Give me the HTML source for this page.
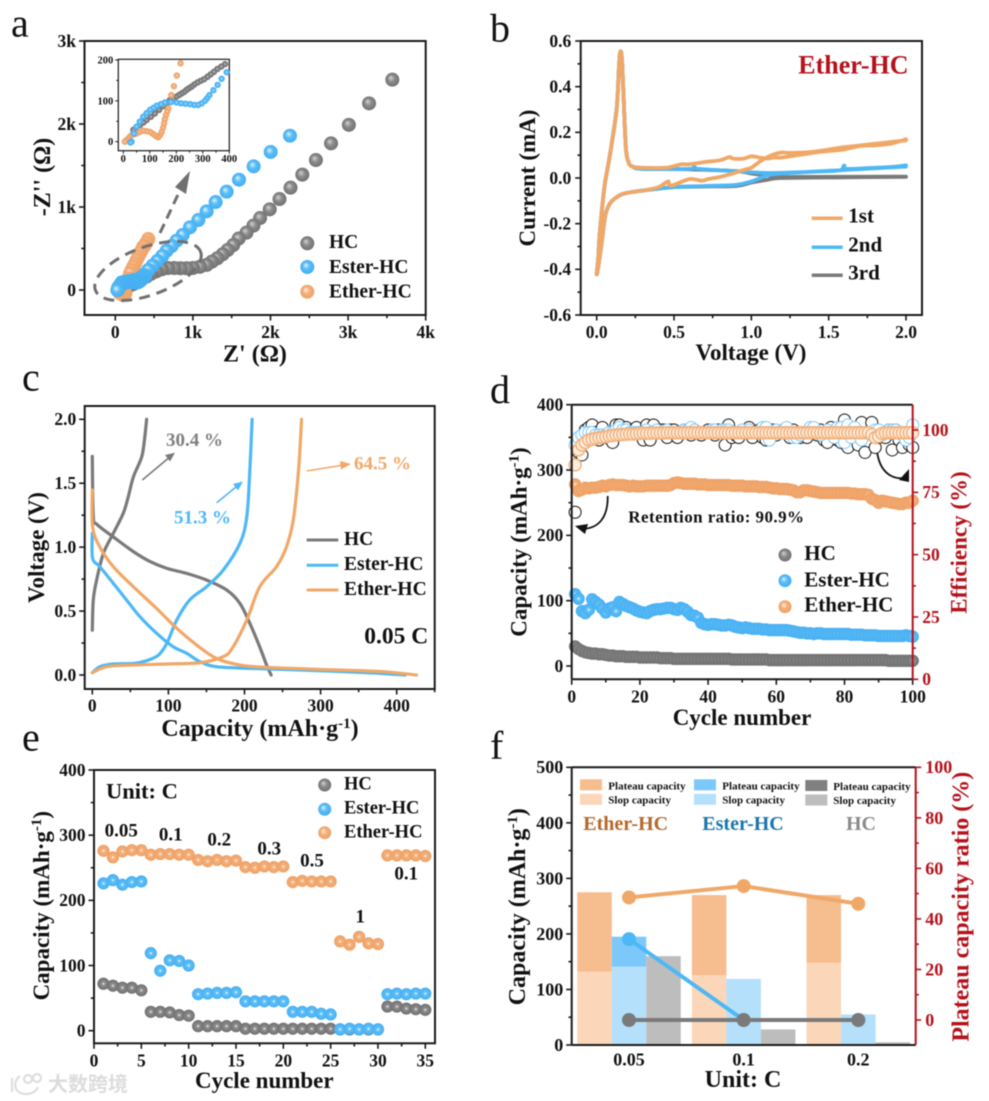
<!DOCTYPE html>
<html lang="en">
<head>
<meta charset="utf-8">
<title>Hard carbon electrochemistry figure</title>
<style>
html,body{margin:0;padding:0;background:#fff;}
body{width:989px;height:1101px;overflow:hidden;}
#figure{display:block;filter:blur(0.5px);}
#figure text{font-family:"Liberation Serif","Noto Serif CJK SC",serif;font-weight:bold;fill:#111;}
#figure text.panel{font-weight:normal;font-size:40px;fill:#111;}
#figure text.title{font-size:23px;}
#figure text.leg{font-size:19.5px;}
#figure text.tiny{font-size:11px;}
#figure text.wm{font-family:"Liberation Sans","Noto Sans CJK SC",sans-serif;font-size:20px;fill:#dcdcdc;}
</style>
</head>
<body>
<svg id="figure" width="989" height="1101" viewBox="0 0 989 1101" xmlns="http://www.w3.org/2000/svg">
<defs>
<radialGradient id="sGray" cx="50%" cy="50%" r="55%" fx="38%" fy="35%"><stop offset="0" stop-color="#d4d4d4"/><stop offset=".45" stop-color="#8b8b8b"/><stop offset="1" stop-color="#6d6d6d"/></radialGradient>
<radialGradient id="sBlue" cx="50%" cy="50%" r="55%" fx="38%" fy="35%"><stop offset="0" stop-color="#dff3ff"/><stop offset=".45" stop-color="#58bdf8"/><stop offset="1" stop-color="#42abf0"/></radialGradient>
<radialGradient id="sOrange" cx="50%" cy="50%" r="55%" fx="38%" fy="35%"><stop offset="0" stop-color="#ffeedd"/><stop offset=".45" stop-color="#f3b07a"/><stop offset="1" stop-color="#ee9f62"/></radialGradient>
<radialGradient id="dGray"><stop offset="0" stop-color="#f0f0f0"/><stop offset=".3" stop-color="#8c8c8c"/><stop offset="1" stop-color="#6f6f6f"/></radialGradient>
<radialGradient id="dBlue"><stop offset="0" stop-color="#f2faff"/><stop offset=".3" stop-color="#5fc0f8"/><stop offset="1" stop-color="#46aef2"/></radialGradient>
<radialGradient id="dOrange"><stop offset="0" stop-color="#fff3e8"/><stop offset=".3" stop-color="#f3b17c"/><stop offset="1" stop-color="#ee9f62"/></radialGradient>
</defs>

<text class="panel" x="11" y="36.7">a</text>
<text class="panel" x="490" y="41.7">b</text>
<text class="panel" x="22" y="390.7">c</text>
<text class="panel" x="490" y="403">d</text>
<text class="panel" x="22" y="750.7">e</text>
<text class="panel" x="490" y="759">f</text>

<!-- axis titles -->
<text class="title" x="255" y="361.7" text-anchor="middle" style="font-size:24px">Z' (Ω)</text>
<text class="title" transform="translate(50,177) rotate(-90)" text-anchor="middle" style="font-size:24px">-Z'' (Ω)</text>
<text class="title" x="751" y="360" text-anchor="middle">Voltage (V)</text>
<text class="title" transform="translate(535,178) rotate(-90)" text-anchor="middle">Current (mA)</text>
<text class="title" x="260" y="736" text-anchor="middle" style="font-size:24px">Capacity (mAh·g<tspan dy="-8" font-size="15">-1</tspan><tspan dy="8">)</tspan></text>
<text class="title" transform="translate(44,547.5) rotate(-90)" text-anchor="middle">Voltage (V)</text>
<text class="title" x="742" y="725" text-anchor="middle">Cycle number</text>
<text class="title" transform="translate(526.7,542) rotate(-90)" text-anchor="middle">Capacity (mAh·g<tspan dy="-8" font-size="15">-1</tspan><tspan dy="8">)</tspan></text>
<text class="title" transform="translate(966.7,542.5) rotate(-90)" text-anchor="middle" style="fill:#b5121b">Efficiency (%)</text>
<text class="title" x="264.3" y="1088" text-anchor="middle">Cycle number</text>
<text class="title" transform="translate(49,905.7) rotate(-90)" text-anchor="middle">Capacity (mAh·g<tspan dy="-8" font-size="15">-1</tspan><tspan dy="8">)</tspan></text>
<text class="title" x="743" y="1087" text-anchor="middle" style="font-size:24px">Unit: C</text>
<text class="title" transform="translate(525,906.7) rotate(-90)" text-anchor="middle" style="font-size:24px">Capacity (mAh·g<tspan dy="-8" font-size="15">-1</tspan><tspan dy="8">)</tspan></text>
<text class="title" transform="translate(968.3,906.7) rotate(-90)" text-anchor="middle" style="font-size:24px;fill:#b5121b">Plateau capacity ratio (%)</text>

<!-- legends and annotations -->
<g>
<circle cx="307.3" cy="243.3" r="7" fill="url(#sGray)"/>
<circle cx="307.3" cy="267" r="7" fill="url(#sBlue)"/>
<circle cx="307.3" cy="291.7" r="7" fill="url(#sOrange)"/>
<text class="leg" x="329" y="248">HC</text>
<text class="leg" x="329" y="273">Ester-HC</text>
<text class="leg" x="329" y="297.6">Ether-HC</text>
</g>
<g>
<line x1="811.7" x2="842.7" y1="218.3" y2="218.3" stroke="#f0a868" stroke-width="3.5"/>
<line x1="811.7" x2="842.7" y1="247.3" y2="247.3" stroke="#4db8f5" stroke-width="3.5"/>
<line x1="811.7" x2="842.7" y1="275.3" y2="275.3" stroke="#7a7a7a" stroke-width="3.5"/>
<text x="848.3" y="222.7" font-size="21">1st</text>
<text x="848.3" y="251.7" font-size="21">2nd</text>
<text x="848.3" y="279.3" font-size="21">3rd</text>
</g>
<text x="798.3" y="73.3" font-size="26" style="fill:#b5121b">Ether-HC</text>
<g>
<line x1="306.7" x2="338.3" y1="540" y2="540" stroke="#7a7a7a" stroke-width="3"/>
<line x1="306.7" x2="338.3" y1="565.3" y2="565.3" stroke="#4db8f5" stroke-width="3"/>
<line x1="306.7" x2="338.3" y1="590" y2="590" stroke="#f0a868" stroke-width="3"/>
<text class="leg" x="344" y="545">HC</text>
<text class="leg" x="344" y="570">Ester-HC</text>
<text class="leg" x="344" y="595">Ether-HC</text>
</g>
<text x="364.3" y="643.3" font-size="23.5">0.05 C</text>
<text x="166" y="446" font-size="19" style="fill:#808080">30.4 %</text>
<text x="174" y="523.3" font-size="19" style="fill:#4db8f5">51.3 %</text>
<text x="354" y="469.3" font-size="19" style="fill:#f0a868">64.5 %</text>
<g stroke="#7a7a7a" fill="#7a7a7a"><line x1="142.3" y1="480" x2="168" y2="458.5" stroke-width="1.6"/><polygon points="175,452.7 165,455 170,461.5" stroke="none"/></g>
<g stroke="#4db8f5" fill="#4db8f5"><line x1="216.7" y1="502.7" x2="236" y2="487" stroke-width="1.6"/><polygon points="243,481.5 233,484 238,490.5" stroke="none"/></g>
<g stroke="#f0a868" fill="#f0a868"><line x1="306.7" y1="471" x2="341" y2="465.5" stroke-width="1.6"/><polygon points="351,464 340,461 341,469.5" stroke="none"/></g>

<g>
<circle cx="785" cy="555" r="6.5" fill="url(#sGray)"/>
<circle cx="785" cy="580.7" r="6.5" fill="url(#sBlue)"/>
<circle cx="785" cy="606.7" r="6.5" fill="url(#sOrange)"/>
<text class="leg" x="804.3" y="560" style="font-size:21px">HC</text>
<text class="leg" x="804.3" y="586.7" style="font-size:21px">Ester-HC</text>
<text class="leg" x="804.3" y="611.7" style="font-size:21px">Ether-HC</text>
</g>
<text x="628.3" y="522.7" font-size="17" textLength="175.7">Retention ratio: 90.9%</text>

<g>
<circle cx="324.7" cy="785" r="6.5" fill="url(#sGray)"/>
<circle cx="324.7" cy="809.3" r="6.5" fill="url(#sBlue)"/>
<circle cx="324.7" cy="832.7" r="6.5" fill="url(#sOrange)"/>
<text class="leg" x="344" y="789.3" style="font-size:18.5px">HC</text>
<text class="leg" x="344" y="813.3" style="font-size:18.5px">Ester-HC</text>
<text class="leg" x="344" y="837.3" style="font-size:18.5px">Ether-HC</text>
</g>
<text x="106" y="798.3" font-size="22.5">Unit: C</text>
<g font-size="19" text-anchor="middle">
<text x="121.3" y="836.7">0.05</text>
<text x="170.7" y="840.7">0.1</text>
<text x="219.3" y="845.7">0.2</text>
<text x="269.3" y="854.3">0.3</text>
<text x="312" y="866.7">0.5</text>
<text x="360.3" y="922.7">1</text>
<text x="406.3" y="879.3">0.1</text>
</g>

<g fill="none" stroke="#dedede" stroke-width="2.2">
<path d="M12 1078 L12 1092 M20 1076 C12 1082 14 1094 26 1094 C32 1094 36 1091 38 1087"/>
<circle cx="28" cy="1079" r="4"/>
<circle cx="37" cy="1078" r="4"/>
<text class="wm" x="48" y="1091" stroke="none">大数跨境</text>
</g>

<g id="marks"></g>
<g id="overlay"></g>
</svg>

<script>
/* ---------- panel a: impedance (ohm) ---------- */
const aHcZre=[3570,3270,3010,2780,2585,2410,2258,2116,1990,1866,1780,1690,1590,1520,1448,1383,1315,1245,1178,1090,1000,920,840,760,680,600,530,460,400,340,280,230,180,130];
const aHcZim=[2534,2249,1990,1767,1566,1390,1233,1096,972,867,775,691,620,542,482,430,382,342,302,280,265,262,262,265,265,250,225,195,160,130,100,70,50,30];
const aEsterZre=[2251,2002,1783,1594,1435,1293,1177,1070,962,868,790,726,662,606,541,481,425,369,320,280,240,200,160,120,80,60,40,30];
const aEsterZim=[1859,1663,1490,1329,1185,1060,948,843,755,663,594,530,474,410,349,293,241,181,145,125,120,110,105,100,90,60,30,0];
const aEtherZre=[425,400,375,360,340,318,295,275,255,232,210,190,170,145,120,100,130,100,60,40];
const aEtherZim=[614,570,530,522,480,442,400,361,320,281,240,200,140,80,30,-20,-40,-60,-40,0];
const aXTicks=[0,1000,2000,3000,4000];
const aXLabels=['0','1k','2k','3k','4k'];
const aXMinor=[500,1500,2500,3500];
const aYTicks=[0,1000,2000,3000];
const aYLabels=['0','1k','2k','3k'];
const aYMinor=[500,1500,2500];

/* inset of panel a */
const insetHcZre=[384,370,355,342,330,318,305,292,280,268,258,248,239,230,220,210,199,188,176,164,151,135,119,104,88,76,63,50,38];
const insetHcZim=[190,184,178,171,165,159,153,149,145,140,135,131,127,122,118,114,110,106,102,95,87,78,69,61,53,47,41,35,29];
const insetEsterZre=[390,371,356,340,325,316,308,296,283,268,252,235,218,201,180,157,142,126,114,101,88,75,62,50,40,31,27];
const insetEsterZim=[170,154,139,126,114,106,100,94,90,90,92,93,94,96,97,96,92,88,83,78,70,61,49,37,20,0,-2];
const insetEtherZre=[216,202,191,181,170,166,161,157,154,150,145,139,132,125,119,110,101,88,75,62,50,40,31,25,19,12,6];
const insetEtherZim=[192,162,136,114,82,74,65,55,45,34,24,16,11,13,16,20,24,26,27,24,20,18,16,12,8,4,0];
const insetXTicks=[0,100,200,300,400];
const insetXLabels=['0','100','200','300','400'];
const insetXMinor=[50,150,250,350];
const insetYTicks=[0,100,200];
const insetYLabels=['0','100','200'];
const insetYMinor=[50,150];

/* ---------- panel b: cyclic voltammetry ---------- */
const bTick=[0,0.5,1,1.5,2];
const bXLabels=['0.0','0.5','1.0','1.5','2.0'];
const bXMinor=[0.25,0.75,1.25,1.75];
const bYTicks=[-0.6,-0.4,-0.2,0,0.2,0.4,0.6];
const bYLabels=['-0.6','-0.4','-0.2','0.0','0.2','0.4','0.6'];
const bYMinor=[-0.5,-0.3,-0.1,0.1,0.3,0.5];
const b3rdV=[2,1.6,1.2,1.1,1,0.9,0.7,0.5,0.3,0.172,0.108,0.075,0.054,0.032,0.01,0,0.01,0.02,0.05,0.07,0.097,0.13,0.145,0.155,0.165,0.18,0.19,0.205,0.23,0.3,0.6,0.9,1,1.1,1.2,1.4,2];
const b3rdI=[0.005,0.003,0,-0.008,-0.02,-0.035,-0.037,-0.04,-0.055,-0.069,-0.095,-0.124,-0.17,-0.285,-0.39,-0.42,-0.35,-0.24,-0.04,0.04,0.15,0.31,0.5,0.555,0.5,0.25,0.12,0.07,0.05,0.04,0.038,0.03,0.02,0.012,0.005,0.005,0.006];
const b2ndV=[2,1.6,1.2,1.1,1,0.9,0.7,0.5,0.3,0.172,0.108,0.075,0.054,0.032,0.01,0,0.01,0.02,0.05,0.07,0.097,0.13,0.145,0.155,0.165,0.18,0.19,0.205,0.23,0.3,0.6,0.63,0.66,0.9,1.1,1.3,1.5,1.58,1.6,1.62,1.8,1.9,2];
const b2ndI=[0.05,0.035,0.02,0.01,-0.015,-0.03,-0.035,-0.04,-0.055,-0.069,-0.095,-0.124,-0.17,-0.285,-0.39,-0.42,-0.35,-0.24,-0.04,0.04,0.15,0.31,0.5,0.555,0.5,0.25,0.12,0.07,0.05,0.04,0.04,0.05,0.04,0.03,0.022,0.025,0.03,0.035,0.055,0.04,0.045,0.048,0.055];
const b1stV=[2,1.8,1.6,1.4,1.25,1.2,1.15,1.1,1.05,1,0.95,0.88,0.8,0.72,0.68,0.6,0.5,0.47,0.46,0.4,0.3,0.172,0.108,0.075,0.054,0.032,0.01,0,0.01,0.02,0.05,0.07,0.097,0.13,0.145,0.155,0.165,0.18,0.19,0.205,0.23,0.3,0.45,0.5,0.55,0.6,0.7,0.8,0.86,0.88,0.95,1,1.05,1.1,1.15,1.2,1.3,1.45,1.6,1.7,1.8,1.9,2];
const b1stI=[0.165,0.15,0.135,0.115,0.11,0.112,0.105,0.09,0.07,0.045,0.035,0.02,0.005,-0.005,-0.012,-0.005,-0.03,-0.03,-0.015,-0.04,-0.055,-0.069,-0.095,-0.124,-0.17,-0.285,-0.39,-0.42,-0.35,-0.24,-0.04,0.04,0.15,0.31,0.5,0.555,0.5,0.25,0.12,0.07,0.05,0.045,0.045,0.052,0.06,0.06,0.07,0.078,0.092,0.085,0.085,0.095,0.09,0.085,0.09,0.09,0.1,0.115,0.125,0.14,0.143,0.15,0.17];

/* ---------- panel c: charge/discharge ---------- */
const cXTicks=[0,100,200,300,400];
const cXLabels=['0','100','200','300','400'];
const cXMinor=[50,150,250,350,450];
const cYTicks=[0,0.5,1,1.5,2];
const cYLabels=['0.0','0.5','1.0','1.5','2.0'];
const cYMinor=[0.25,0.75,1.25,1.75];
const cHcDisQ=[0,1.3,5.7,27.6,54,76,98,124,150,176.5,194,207,220,229,235];
const cHcDisV=[1.71,1.24,1.18,1.08,0.965,0.887,0.834,0.795,0.743,0.665,0.56,0.404,0.22,0.078,0];
const cHcChgQ=[0,1.3,5.7,14.5,27.6,40.7,47.3,54,65,69,71.4];
const cHcChgV=[0.35,0.587,0.743,0.95,1.108,1.265,1.395,1.55,1.708,1.864,2];
const cEsterDisQ=[0,0.4,10,27.6,45,62.6,84.6,106,124,141.5,163,207,273,360,411];
const cEsterDisV=[1.108,0.913,0.847,0.717,0.587,0.456,0.326,0.222,0.17,0.104,0.065,0.052,0.039,0.018,0];
const cEsterChgQ=[0,10,27.6,54,71.4,87,98,111,128,150,172,194,203,207,210];
const cEsterChgV=[0.018,0.065,0.086,0.09,0.112,0.156,0.248,0.43,0.587,0.69,0.82,1.03,1.238,1.6,2];
const cEtherDisQ=[0,0.4,10,27.6,54,84.6,111,137,163,194,229,317,382,426];
const cEtherDisV=[1.447,1.16,1,0.847,0.69,0.52,0.365,0.235,0.13,0.078,0.06,0.04,0.026,0];
const cEtherChgQ=[0,19,54,98,141.5,172,185,203,220,242,255,264,271,275];
const cEtherChgV=[0.018,0.065,0.078,0.086,0.096,0.143,0.22,0.43,0.69,0.847,1,1.21,1.6,2];

/* ---------- panel d: cycling ---------- */
const dXTicks=[0,20,40,60,80,100];
const dXLabels=['0','20','40','60','80','100'];
const dXMinor=[10,30,50,70,90];
const dYTicks=[0,100,200,300,400];
const dYLabels=['0','100','200','300','400'];
const dYMinor=[50,150,250,350];
const dRTicks=[0,25,50,75,100];
const dRLabels=['0','25','50','75','100'];
const dRMinor=[12.5,37.5,62.5,87.5];
const dHcCap=[30,26,23,21,20,19,19,18,18,17,16,16,15,15,15,14,14,14,14,13,13,13,13,13,13,12,12,12,12,11,11,11,11,11,11,11,11,11,11,11,11,11,11,11,11,11,10,10,10,10,10,10,10,10,10,10,10,9,9,9,9,9,9,9,9,9,9,9,9,9,9,9,9,9,9,9,9,9,9,9,9,9,9,9,9,9,9,9,9,9,9,9,8,8,8,8,8,8,8,8];
const dEsterCap=[110,103,84,81,86,102,98,94,88,82,88,90,84,98,95,92,90,88,85,83,82,81,84,86,87,87,88,89,89,87,86,89,87,83,78,77,74,66,64,63,64,64,63,62,62,63,62,60,59,58,59,58,57,57,57,56,56,55,55,55,55,55,55,54,53,52,51,51,50,50,49,50,50,49,49,49,49,49,49,49,49,48,48,48,48,47,47,47,47,46,46,46,46,46,46,46,46,47,46,45];
const dEtherCap=[278,268,270,273,272,273,273,274,276,275,277,278,277,277,277,276,275,276,275,275,275,276,276,276,276,276,276,276,277,280,281,280,279,279,279,279,278,278,278,277,277,277,277,277,277,277,276,276,276,276,275,275,275,275,274,274,274,273,272,272,271,271,271,270,269,266,266,269,269,268,267,266,265,265,265,265,265,265,265,265,265,264,264,263,263,263,262,256,254,250,253,252,251,250,249,248,248,250,250,253];
const dHcEff=[67,91,90,100,101,102,99,96,101,97,98,95,102,102,100,101,99,100,101,98,96,102,96,102,99,100,100,97,100,100,97,99,100,99,98,100,99,98,99,100,99,98,100,99,94,102,97,98,97,99,100,101,97,99,100,97,96,99,100,98,99,100,99,97,100,98,97,99,97,100,99,98,100,96,95,101,99,96,95,104,93,99,100,94,103,91,99,103,93,97,99,97,100,92,100,96,93,99,94,93];
const dEsterEff=[94,97,98,99,99,99,98,98,98,98,99,99,100,101,100,100,99,99,99,99,99,100,99,99,100,99,99,100,99,99,99,99,100,100,101,100,99,99,99,99,100,100,99,100,100,100,99,99,99,100,99,100,99,99,99,101,101,96,99,100,99,100,101,99,97,97,98,99,99,101,101,99,98,99,100,99,97,101,101,95,102,97,101,99,96,99,99,98,100,100,98,99,100,100,100,99,98,96,97,102];
const dEtherEff=[86,92,94,95,96,96.3,96.6,96.9,97.1,97.3,97.6,97.8,98,98.1,98.2,98.3,98.4,98.4,98.5,98.6,98.7,98.7,98.7,98.8,98.8,98.8,98.8,98.9,98.9,98.9,98.9,98.9,98.9,98.9,98.9,98.9,98.9,98.9,98.9,98.9,98.9,98.9,98.9,98.9,98.9,98.9,98.9,98.9,98.9,98.9,98.9,98.9,98.9,98.9,98.9,98.9,98.9,98.9,98.9,98.9,98.9,98.9,98.9,98.9,98.9,98.9,98.9,98.9,98.9,98.9,98.9,98.9,98.9,98.9,98.9,98.9,98.9,98.9,98.9,98.9,98.9,98.9,98.9,98.9,98.9,98.9,98.9,98.2,97,97.4,98.6,98.8,98.9,98.9,98.9,98.9,98.9,98.9,98.9,98.9];

/* ---------- panel e: rate capability ---------- */
const eXTicks=[0,5,10,15,20,25,30,35];
const eXLabels=['0','5','10','15','20','25','30','35'];
const eXMinor=[2.5,7.5,12.5,17.5,22.5,27.5,32.5];
const eYTicks=[0,100,200,300,400];
const eYLabels=['0','100','200','300','400'];
const eYMinor=[50,150,250,350];
const eHcCap=[72,69,66,66,62,29,29,28,24,23,7,7,7,7,7,3,3,3,3,3,3,3,3,3,3,2,2,2,2,2,37,37,34,33,32];
const eEsterCap=[226,231,224,228,229,119,92,108,107,100,56,57,58,58,59,45,45,45,45,45,29,29,29,26,25,2,3,2,3,2,56,57,56,57,57];
const eEtherCap=[276,266,275,277,277,270,271,271,270,270,262,260,262,260,261,251,250,252,251,252,228,230,229,229,229,137,132,144,134,133,269,269,269,269,268];

/* ---------- panel f: plateau vs slope ---------- */
const fCategories=['0.05','0.1','0.2'];
const fEtherSlope=[132,126,148];
const fEtherTotal=[275,270,270];
const fEsterSlope=[141,119,55];
const fEsterTotal=[195,119,55];
const fHcSlope=[160,28,5];
const fHcTotal=[160,28,5];
const fEtherRatio=[48.5,53,46];
const fEsterRatio=[32,0,0];
const fHcRatio=[0,0,0];
const fYTicks=[0,100,200,300,400,500];
const fYLabels=['0','100','200','300','400','500'];
const fYMinor=[50,150,250,350,450];
const fRTicks=[0,20,40,60,80,100];
const fRLabels=['0','20','40','60','80','100'];
const fRMinor=[10,30,50,70,90];

/* ---------- helpers ---------- */
const NS='http://www.w3.org/2000/svg';
const root=document.getElementById('marks');
const overlay=document.getElementById('overlay');
function scale(d0,d1,r0,r1){return v=>r0+(v-d0)*(r1-r0)/(d1-d0);}
function mk(tag,attrs,name,parent){
  const el=document.createElementNS(NS,tag);
  for(const k in attrs){el.setAttribute(k,attrs[k]);}
  
  
  (parent||root).appendChild(el);
  return el;
}
function group(name,parent){return mk('g',{},name,parent);}
const RED='#b5121b', INK='#1a1a1a';

function frame(g,name,L,T,R,B,w){
  mk('rect',{x:L,y:T,width:R-L,height:B-T,fill:'none',stroke:INK,'stroke-width':w||2},name+'-frame',g);
}
function axis(g,name,side,pos,sc,ticks,labels,minor,o){
  o=o||{};
  const col=o.color||INK, fs=o.fs||17.5, major=o.major||5.5, small=o.minorLen||3.2, sw=o.sw||1.6;
  const ag=group(name,g);
  function tick(v,len,label,i){
    const p=sc(v);
    if(side==='left'){
      mk('line',{x1:pos-len,x2:pos,y1:p,y2:p,stroke:col,'stroke-width':sw},name+'-tick',ag);
      if(label!==undefined){
        const t=mk('text',{x:pos-len-(o.gap||3),y:p+fs*0.33,'text-anchor':'end','font-size':fs},name+'-label',ag);
        t.textContent=label;
      }
    } else if(side==='right'){
      mk('line',{x1:pos,x2:pos+len,y1:p,y2:p,stroke:col,'stroke-width':sw},name+'-tick',ag);
      if(label!==undefined){
        const t=mk('text',{x:pos+len+(o.gap||3),y:p+fs*0.33,'text-anchor':'start','font-size':fs,style:'fill:'+col},name+'-label',ag);
        t.textContent=label;
      }
    } else {
      mk('line',{x1:p,x2:p,y1:pos,y2:pos+len,stroke:col,'stroke-width':sw},name+'-tick',ag);
      if(label!==undefined){
        const t=mk('text',{x:p,y:o.base,'text-anchor':'middle','font-size':fs},name+'-label',ag);
        t.textContent=label;
      }
    }
  }
  ticks.forEach((v,i)=>tick(v,major,labels[i],i));
  (minor||[]).forEach(v=>tick(v,small));
}
function scatter(g,name,xs,ys,sx,sy,r,fill,extra){
  const sg=group(name,g);
  xs.forEach((x,i)=>{
    mk('circle',Object.assign({cx:sx(x),cy:sy(ys[i]),r:r,fill:fill},extra||{}),name+'-point',sg);
  });
}
/* Smooth line through the data points (Catmull-Rom to cubic Bezier). */
function curve(g,name,xs,ys,sx,sy,color,w){
  const P=xs.map((x,i)=>[sx(x),sy(ys[i])]);
  let d='M'+P[0][0].toFixed(2)+' '+P[0][1].toFixed(2);
  for(let i=0;i<P.length-1;i++){
    const p0=P[Math.max(i-1,0)],p1=P[i],p2=P[i+1],p3=P[Math.min(i+2,P.length-1)];
    const c1x=p1[0]+(p2[0]-p0[0])/6,c1y=p1[1]+(p2[1]-p0[1])/6;
    const c2x=p2[0]-(p3[0]-p1[0])/6,c2y=p2[1]-(p3[1]-p1[1])/6;
    d+=' C'+c1x.toFixed(2)+' '+c1y.toFixed(2)+' '+c2x.toFixed(2)+' '+c2y.toFixed(2)+' '+p2[0].toFixed(2)+' '+p2[1].toFixed(2);
  }
  mk('path',{d:d,fill:'none',stroke:color,'stroke-width':w,'stroke-linejoin':'round','stroke-linecap':'round'},name,g);
}
function polyline(g,name,xs,ys,sx,sy,color,w){
  const d=xs.map((x,i)=>(i?'L':'M')+sx(x).toFixed(2)+' '+sy(ys[i]).toFixed(2)).join(' ');
  mk('path',{d:d,fill:'none',stroke:color,'stroke-width':w,'stroke-linejoin':'round','stroke-linecap':'round'},name,g);
}
function indexAxis(arr){return arr.map((_,i)=>i+1);}

/* ---------- panel a ---------- */
(function(){
  const g=group('panel-a');
  const L=84.5,R=425.7,T=41,B=315;
  const x=scale(0,4000,115.3,425.7), y=scale(0,3000,290,41);
  frame(g,'a-plot',L,T,R,B);
  axis(g,'a-x-axis','bottom',B,x,aXTicks,aXLabels,aXMinor,{base:338});
  axis(g,'a-y-axis','left',L,y,aYTicks,aYLabels,aYMinor,{});
  scatter(g,'a-series-hc',aHcZre.concat(insetHcZre),aHcZim.concat(insetHcZim),x,y,7,'url(#sGray)');
  scatter(g,'a-series-ether',aEtherZre,aEtherZim,x,y,7,'url(#sOrange)');
  scatter(g,'a-series-ester',aEsterZre.concat(insetEsterZre),aEsterZim.concat(insetEsterZim),x,y,7,'url(#sBlue)');
  mk('ellipse',{cx:148,cy:271,rx:56,ry:24,transform:'rotate(-20 148 271)',fill:'none',stroke:'#707070','stroke-width':3,'stroke-dasharray':'11 7'},'a-zoom-ellipse',g);
  mk('line',{x1:160,y1:233,x2:182,y2:186,stroke:'#707070','stroke-width':3,'stroke-dasharray':'10 6'},'a-zoom-arrow-shaft',g);
  mk('polygon',{points:'190,171 175,187 186,194',fill:'#707070'},'a-zoom-arrow-head',g);

  /* inset */
  const ig=group('a-inset',g);
  const iL=118.3,iR=229.3,iT=59.3,iB=150.7;
  const ix=scale(0,400,123.3,229.3), iy=scale(0,200,141.7,60);
  mk('rect',{x:iL,y:iT,width:iR-iL,height:iB-iT,fill:'#fff',stroke:INK,'stroke-width':1.2},'a-inset-frame',ig);
  axis(ig,'a-inset-x-axis','bottom',iB,ix,insetXTicks,insetXLabels,insetXMinor,{base:162,fs:10.5,major:3,minorLen:2,sw:1});
  axis(ig,'a-inset-y-axis','left',iL,iy,insetYTicks,insetYLabels,insetYMinor,{fs:10.5,major:3,minorLen:2,sw:1,gap:2});
  scatter(ig,'a-inset-series-hc',insetHcZre,insetHcZim,ix,iy,3.2,'url(#dGray)');
  scatter(ig,'a-inset-series-ether',insetEtherZre,insetEtherZim,ix,iy,3.2,'url(#dOrange)');
  scatter(ig,'a-inset-series-ester',insetEsterZre,insetEsterZim,ix,iy,3.2,'url(#dBlue)');
})();

/* ---------- panel b ---------- */
(function(){
  const g=group('panel-b');
  const L=580.7,R=922,T=41,B=315;
  const x=scale(0,2,596.7,906), y=scale(-0.6,0.6,315,41);
  frame(g,'b-plot',L,T,R,B);
  axis(g,'b-x-axis','bottom',B,x,bTick,bXLabels,bXMinor,{base:338});
  axis(g,'b-y-axis','left',L,y,bYTicks,bYLabels,bYMinor,{gap:4});
  curve(g,'b-curve-3rd',b3rdV,b3rdI,x,y,'#7a7a7a',3.8);
  curve(g,'b-curve-2nd',b2ndV,b2ndI,x,y,'#4db8f5',3.8);
  curve(g,'b-curve-1st',b1stV,b1stI,x,y,'#f0a868',3.8);
})();

/* ---------- panel c ---------- */
(function(){
  const g=group('panel-c');
  const L=84.7,R=434.7,T=406,B=689;
  const x=scale(0,400,92.3,396.7), y=scale(0,2,675,419.3);
  frame(g,'c-plot',L,T,R,B);
  axis(g,'c-x-axis','bottom',B,x,cXTicks,cXLabels,cXMinor,{base:711.7});
  axis(g,'c-y-axis','left',L,y,cYTicks,cYLabels,cYMinor,{});
  curve(g,'c-hc-discharge',cHcDisQ,cHcDisV,x,y,'#7a7a7a',3.2);
  curve(g,'c-hc-charge',cHcChgQ,cHcChgV,x,y,'#7a7a7a',3.2);
  curve(g,'c-ester-discharge',cEsterDisQ,cEsterDisV,x,y,'#4db8f5',3.2);
  curve(g,'c-ester-charge',cEsterChgQ,cEsterChgV,x,y,'#4db8f5',3.2);
  curve(g,'c-ether-discharge',cEtherDisQ,cEtherDisV,x,y,'#f0a868',3.2);
  curve(g,'c-ether-charge',cEtherChgQ,cEtherChgV,x,y,'#f0a868',3.2);
})();

/* ---------- panel d ---------- */
(function(){
  const g=group('panel-d');
  const L=571.7,R=912.7,T=404.7,B=679.3;
  const x=scale(0,100,L,R), y=scale(0,400,666,404.7), yr=scale(0,100,679.3,430);
  const n=indexAxis(dHcCap);
  scatter(g,'d-efficiency-hc',n,dHcEff,x,yr,6,'#fff',{stroke:'#111','stroke-width':1});
  scatter(g,'d-efficiency-ester',n,dEsterEff,x,yr,6,'#fff',{stroke:'#7cc8fb','stroke-width':1});
  scatter(g,'d-efficiency-ether',n,dEtherEff,x,yr,6,'#fdeedd',{stroke:'#f2b27e','stroke-width':1.5});
  scatter(g,'d-capacity-hc',n,dHcCap,x,y,6.2,'url(#dGray)');
  scatter(g,'d-capacity-ester',n,dEsterCap,x,y,6.2,'url(#dBlue)');
  scatter(g,'d-capacity-ether',n,dEtherCap,x,y,6.2,'url(#dOrange)');
  mk('line',{x1:L,x2:R,y1:T,y2:T,stroke:INK,'stroke-width':2},'d-top-axis-line',g);
  mk('line',{x1:L,x2:R,y1:B,y2:B,stroke:INK,'stroke-width':2},'d-bottom-axis-line',g);
  mk('line',{x1:L,x2:L,y1:T,y2:B,stroke:INK,'stroke-width':2},'d-left-axis-line',g);
  mk('line',{x1:R,x2:R,y1:T,y2:B,stroke:RED,'stroke-width':2},'d-right-axis-line',g);
  axis(g,'d-x-axis','bottom',B,x,dXTicks,dXLabels,dXMinor,{base:702.7});
  axis(g,'d-y-axis','left',L,y,dYTicks,dYLabels,dYMinor,{});
  axis(g,'d-right-axis','right',R,yr,dRTicks,dRLabels,dRMinor,{color:RED,gap:4});
  mk('path',{d:'M607.7 496 C608 516 600 529 581 529',fill:'none',stroke:'#111','stroke-width':1.8},'d-arrow-capacity',overlay);
  mk('polygon',{points:'575,526 588,524 585,534',fill:'#111'},'d-arrow-capacity-head',overlay);
  mk('path',{d:'M877.3 453.3 C880 470 890 480 905 478',fill:'none',stroke:'#111','stroke-width':1.8},'d-arrow-efficiency',overlay);
  mk('polygon',{points:'909,469 899,480 909,482',fill:'#111'},'d-arrow-efficiency-head',overlay);
})();

/* ---------- panel e ---------- */
(function(){
  const g=group('panel-e');
  const L=94,R=435,T=770,B=1043.3;
  const x=scale(0,35,94,425.3), y=scale(0,400,1030.7,770);
  frame(g,'e-plot',L,T,R,B);
  axis(g,'e-x-axis','bottom',B,x,eXTicks,eXLabels,eXMinor,{base:1066.7});
  axis(g,'e-y-axis','left',L,y,eYTicks,eYLabels,eYMinor,{});
  const n=indexAxis(eHcCap);
  scatter(g,'e-series-hc',n,eHcCap,x,y,6.1,'url(#dGray)');
  scatter(g,'e-series-ester',n,eEsterCap,x,y,6.1,'url(#dBlue)');
  scatter(g,'e-series-ether',n,eEtherCap,x,y,6.1,'url(#dOrange)');
})();

/* ---------- panel f ---------- */
(function(){
  const g=group('panel-f');
  const L=571.7,R=915.7,T=767.3,B=1045;
  const y=scale(0,500,B,T), yr=scale(0,100,1020,T);
  const centerX=scale(0,2,629,858.3);
  const bw=34.5;
  const colors=[['#fbd6b8','#f6bd8f'],['#b4e0fc','#7cc8fb'],['#bdbdbd','#808080']];
  const slopes=[fEtherSlope,fEsterSlope,fHcSlope], totals=[fEtherTotal,fEsterTotal,fHcTotal];
  const names=['ether','ester','hc'];
  fCategories.forEach((c,i)=>{
    const cx=centerX(i);
    names.forEach((nm,j)=>{
      const bx=cx+(j-1)*bw-bw/2;
      mk('rect',{x:bx,y:y(slopes[j][i]),width:bw,height:y(0)-y(slopes[j][i]),fill:colors[j][0]},'f-bar-slope-'+nm+'-'+c,g);
      if(totals[j][i]>slopes[j][i]){
        mk('rect',{x:bx,y:y(totals[j][i]),width:bw,height:y(slopes[j][i])-y(totals[j][i]),fill:colors[j][1]},'f-bar-plateau-'+nm+'-'+c,g);
      }
    });
    const t=mk('text',{x:cx,y:1065.7,'text-anchor':'middle','font-size':18},'f-x-axis-label',g);
    t.textContent=c;
  });
  const idx=fCategories.map((_,i)=>i);
  polyline(g,'f-ratio-line-ether',idx,fEtherRatio,centerX,yr,'#f0a868',4);
  scatter(g,'f-ratio-points-ether',idx,fEtherRatio,centerX,yr,7,'#f0a868');
  polyline(g,'f-ratio-line-ester',idx,fEsterRatio,centerX,yr,'#4db8f5',4);
  scatter(g,'f-ratio-points-ester',idx,fEsterRatio,centerX,yr,7,'#4db8f5');
  polyline(g,'f-ratio-line-hc',idx,fHcRatio,centerX,yr,'#7a7a7a',4);
  scatter(g,'f-ratio-points-hc',idx,fHcRatio,centerX,yr,7,'#7a7a7a');
  mk('line',{x1:L,x2:R,y1:T,y2:T,stroke:INK,'stroke-width':2},'f-top-axis-line',g);
  mk('line',{x1:L,x2:R,y1:B,y2:B,stroke:INK,'stroke-width':2},'f-bottom-axis-line',g);
  mk('line',{x1:L,x2:L,y1:T,y2:B,stroke:INK,'stroke-width':2},'f-left-axis-line',g);
  mk('line',{x1:R,x2:R,y1:T,y2:B,stroke:RED,'stroke-width':2},'f-right-axis-line',g);
  axis(g,'f-y-axis','left',L,y,fYTicks,fYLabels,fYMinor,{fs:18});
  axis(g,'f-right-axis','right',R,yr,fRTicks,fRLabels,fRMinor,{color:RED,fs:18,gap:4});
  const lg=group('f-legend',g);
  const legendX=[580,694,805.3], textX=[608.3,722.3,833.3], tops=[779.3,779.3,780], titleX=[583.3,702.3,846];
  const titleColors=['#b5682a','#1b75ad','#8a8a8a'], titleText=['Ether-HC','Ester-HC','HC'];
  names.forEach((nm,j)=>{
    mk('rect',{x:legendX[j],y:tops[j],width:22,height:11,fill:colors[j][1]},'f-legend-swatch-plateau-'+nm,lg);
    mk('rect',{x:legendX[j],y:tops[j]+14.5,width:22,height:11,fill:colors[j][0]},'f-legend-swatch-slope-'+nm,lg);
    const a=mk('text',{x:textX[j],y:tops[j]+10,class:'tiny'},'f-legend-plateau-'+nm,lg);
    a.textContent='Plateau capacity';
    const b=mk('text',{x:textX[j],y:tops[j]+24,class:'tiny'},'f-legend-slope-'+nm,lg);
    b.textContent='Slop capacity';
    const c=mk('text',{x:titleX[j],y:830,'font-size':20,style:'fill:'+titleColors[j]},'f-legend-title-'+nm,lg);
    c.textContent=titleText[j];
  });
})();
</script>
</body>
</html>
